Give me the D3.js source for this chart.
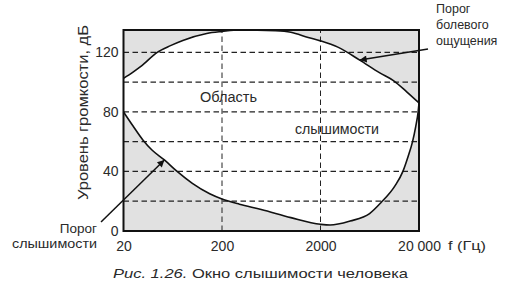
<!DOCTYPE html>
<html>
<head>
<meta charset="utf-8">
<script src="https://cdn.jsdelivr.net/npm/d3@7"></script>
<style>
  html, body { margin: 0; padding: 0; background: #fff; }
  svg { display: block; }
  text { font-family: "Liberation Sans", Arial, Helvetica, sans-serif; fill: #2a2a2a; }
</style>
</head>
<body>
<svg id="chart" width="505" height="292"></svg>
<script>
// ---- data ----
const freqTicks = [20, 200, 2000, 20000];
const freqTickLabels = ["20", "200", "2000", "20 000"];
const dbTicks = [0, 40, 80, 120];
const dbGrid = [20, 40, 60, 80, 100, 120];
const freqGrid = [200, 2000];

// Порог болевого ощущения (pain threshold)
const painFreq = [20, 25, 30, 44, 60, 80, 140, 200, 300, 700, 1000, 1500, 2000, 3000, 5000, 8000, 11000, 15000, 20000];
const painDb   = [102.5, 106.7, 110.5, 120, 124.5, 128, 132.7, 134, 135, 134.5, 133.5, 130, 127.7, 123.5, 114.8, 106.2, 101, 93.5, 86];

// Порог слышимости (hearing threshold)
const thrFreq = [20, 25, 31.6, 38.9, 52, 70, 100, 150, 200, 300, 500, 1000, 2000, 2500, 4000, 6300, 8200, 11400, 13800, 15500, 17200, 18500, 19600, 20000];
const thrDb   = [80, 70.5, 61, 54.4, 47.7, 40, 32, 25, 21.5, 18, 14.5, 9, 4.5, 4, 6.7, 11.7, 19, 30.3, 40.4, 50, 60, 70, 80, 86];

const dbMax = 135;

// ---- layout ----
const svg = d3.select("#chart");
const x = d3.scaleLog().domain([20, 20000]).range([123.5, 419]);
const y = d3.scaleLinear().domain([0, dbMax]).range([231, 30]);

const pain = painFreq.map((f, i) => ({ f, db: painDb[i] }));
const thr = thrFreq.map((f, i) => ({ f, db: thrDb[i] }));

const shade = "#e1e1e1";

// shaded region above pain threshold
svg.append("path")
  .datum(pain)
  .attr("fill", shade)
  .attr("d", d3.area().x(d => x(d.f)).y0(y(dbMax)).y1(d => y(d.db)).curve(d3.curveMonotoneX));

// shaded region below hearing threshold
svg.append("path")
  .datum(thr)
  .attr("fill", shade)
  .attr("d", d3.area().x(d => x(d.f)).y0(y(0)).y1(d => y(d.db)).curve(d3.curveMonotoneX));

// grid
const grid = svg.append("g").attr("stroke", "#222").attr("stroke-width", 1.2).attr("stroke-dasharray", "5.5,3.5");
grid.selectAll("line.h").data(dbGrid).join("line")
  .attr("class", "h")
  .attr("x1", x(20)).attr("x2", x(20000))
  .attr("y1", d => y(d)).attr("y2", d => y(d));
grid.selectAll("line.v").data(freqGrid).join("line")
  .attr("class", "v")
  .attr("y1", y(0)).attr("y2", y(dbMax))
  .attr("x1", d => x(d)).attr("x2", d => x(d))
  .attr("stroke-width", 1);

// curves
const line = d3.line().x(d => x(d.f)).y(d => y(d.db)).curve(d3.curveMonotoneX);
svg.append("path").datum(pain).attr("fill", "none").attr("stroke", "#111").attr("stroke-width", 1.6).attr("d", line);
svg.append("path").datum(thr).attr("fill", "none").attr("stroke", "#111").attr("stroke-width", 1.6).attr("d", line);

// frame
svg.append("rect")
  .attr("x", x(20)).attr("y", y(dbMax))
  .attr("width", x(20000) - x(20)).attr("height", y(0) - y(dbMax))
  .attr("fill", "none").attr("stroke", "#111").attr("stroke-width", 2);

// y axis (labels only)
const yAxis = d3.axisLeft(y).tickValues(dbTicks).tickSize(0).tickPadding(5).tickFormat(d3.format("d"));
const gy = svg.append("g").attr("transform", `translate(${x(20)},0)`).call(yAxis);
gy.select(".domain").remove();
gy.selectAll("text").attr("font-size", 14).attr("font-family", null).attr("fill", "#2a2a2a");

// x axis (labels only)
const xAxis = d3.axisBottom(x).tickValues(freqTicks).tickSize(0).tickPadding(10)
  .tickFormat((d, i) => freqTickLabels[i]);
const gx = svg.append("g").attr("transform", `translate(0,${y(0)})`).call(xAxis);
gx.select(".domain").remove();
gx.selectAll("text").attr("font-size", 14).attr("font-family", null).attr("fill", "#2a2a2a");

svg.append("text").attr("x", 448).attr("y", 250).attr("font-size", 12.5)
  .attr("textLength", 38).attr("lengthAdjust", "spacingAndGlyphs").text("f (Гц)");

// y label
svg.append("text")
  .attr("transform", "translate(88,112.5) rotate(-90)")
  .attr("text-anchor", "middle").attr("font-size", 14)
  .attr("textLength", 175).attr("lengthAdjust", "spacingAndGlyphs")
  .text("Уровень громкости, дБ");

// region labels
svg.append("text").attr("x", 228.5).attr("y", 102).attr("text-anchor", "middle").attr("font-size", 14)
  .attr("textLength", 57).attr("lengthAdjust", "spacingAndGlyphs").text("Область");
svg.append("text").attr("x", 337).attr("y", 134).attr("text-anchor", "middle").attr("font-size", 14)
  .attr("textLength", 84).attr("lengthAdjust", "spacingAndGlyphs").text("слышимости");

// arrow marker
svg.append("defs").append("marker")
  .attr("id", "arr").attr("viewBox", "0 0 10 10").attr("refX", 10).attr("refY", 5)
  .attr("markerWidth", 10).attr("markerHeight", 7).attr("markerUnits", "userSpaceOnUse")
  .attr("orient", "auto")
  .append("path").attr("d", "M0,0 L10,5 L0,10 Z").attr("fill", "#111");

// pain annotation
const painTipF = 5000, painTipDb = painDb[painFreq.indexOf(5000)];
svg.append("line")
  .attr("x1", 428).attr("y1", 49)
  .attr("x2", x(painTipF)).attr("y2", y(painTipDb))
  .attr("stroke", "#111").attr("stroke-width", 1.5).attr("marker-end", "url(#arr)");
const painLbl = svg.append("text").attr("x", 436).attr("font-size", 12.5);
["Порог", "болевого", "ощущения"].forEach((t, i) =>
  painLbl.append("tspan").attr("x", 436).attr("y", 13 + i * 16).text(t));

// hearing threshold annotation
const thrTipF = 52, thrTipDb = thrDb[thrFreq.indexOf(52)];
svg.append("line")
  .attr("x1", 101).attr("y1", 222)
  .attr("x2", x(thrTipF)).attr("y2", y(thrTipDb))
  .attr("stroke", "#111").attr("stroke-width", 1.5).attr("marker-end", "url(#arr)");
svg.append("text").attr("x", 97).attr("y", 232.5).attr("text-anchor", "end").attr("font-size", 13.5).text("Порог");
svg.append("text").attr("x", 97).attr("y", 248).attr("text-anchor", "end").attr("font-size", 13.5)
  .attr("textLength", 85).attr("lengthAdjust", "spacingAndGlyphs").text("слышимости");

// caption
const cap = svg.append("text").attr("x", 113).attr("y", 278).attr("font-size", 13).attr("fill", "#333")
  .attr("textLength", 295).attr("lengthAdjust", "spacingAndGlyphs");
cap.append("tspan").attr("font-style", "italic").text("Рис. 1.26.");
cap.append("tspan").text(" Окно слышимости человека");
</script>
</body>
</html>
